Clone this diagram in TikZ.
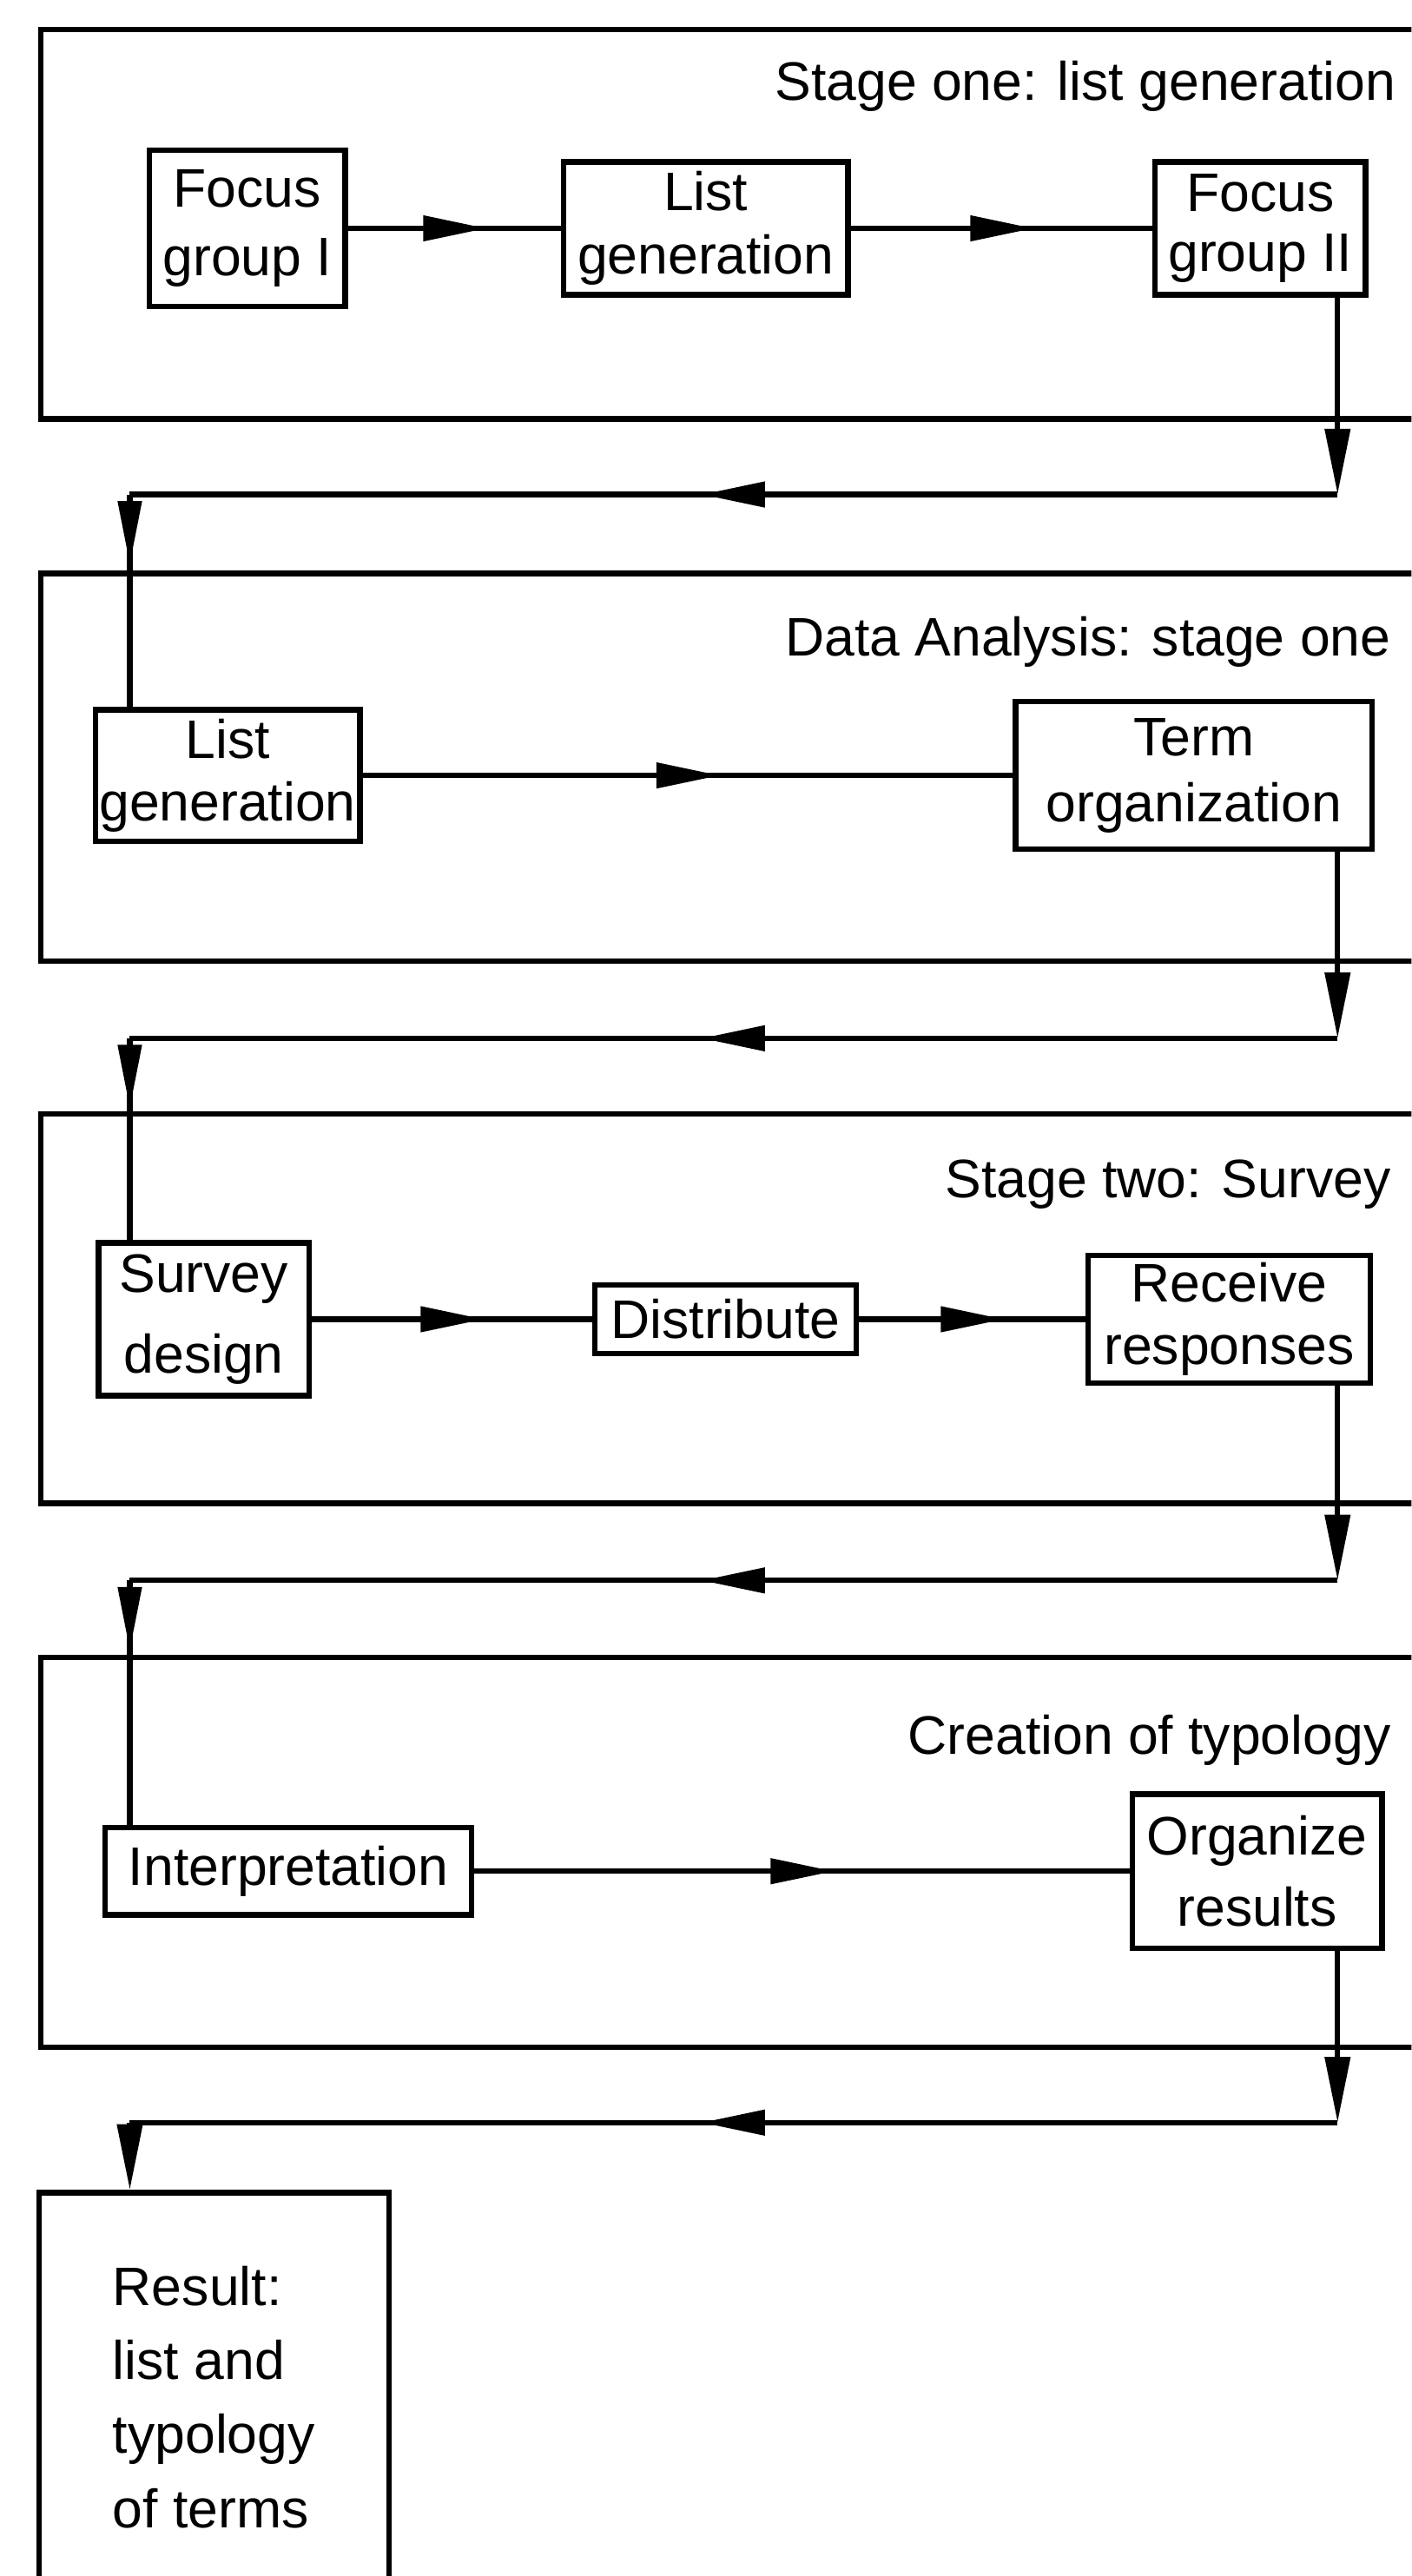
\documentclass[tikz,border=0pt]{standalone}
\usepackage{fontspec}
\setmainfont{Liberation Sans}
\usepackage{tikz}
\usetikzlibrary{arrows.meta,decorations.markings}

\begin{document}
\begin{tikzpicture}[x=0.02cm,y=-0.02cm,line width=1.9pt,
  task box/.style={draw,line width=1.9pt,align=center,inner sep=0pt,font=\fontsize{18.8}{#1}\selectfont},
  task box/.default=22.8pt,
  stage label/.style={anchor=base east,inner sep=0pt,font=\fontsize{18.8}{22.8}\selectfont},
  midhead/.style={postaction={decorate,decoration={markings,
    mark=at position 0.5 with {\fill (0.38cm,0) -- (-0.38cm,0.16cm) -- (-0.38cm,-0.16cm) -- cycle;}}}},
  starthead/.style={postaction={decorate,decoration={markings,
    mark=at position 0.84cm with {\fill (0,0) -- (-0.76cm,0.15cm) -- (-0.76cm,-0.15cm) -- cycle;}}}},
  endhead/.style={-{Triangle[length=0.8cm,width=0.3cm]}}]
\tikzstyle{frame} = [draw,line width=1.9pt]

\useasboundingbox (0,0) rectangle (859,1568);
\clip (0,0) rectangle (859,1568);

% Turning points of the return lines
\coordinate (r1) at (814,301);
\coordinate (l1) at (79,301);
\coordinate (r2) at (814,632);
\coordinate (l2) at (79,632);
\coordinate (r3) at (814,962);
\coordinate (l3) at (79,962);
\coordinate (r4) at (814,1292);
\coordinate (l4) at (79,1292);

% Stage one
\path[frame] (880,18) -- (25,18) -- (25,255) -- (880,255);
\node[stage label] (s1) at (851,61) {Stage one: list generation};
\node[task box=24pt,minimum width=2.38cm,minimum height=1.9cm] (fg1) at (150.5,139) {Focus\\group I};
\node[task box=22pt,minimum width=3.46cm,minimum height=1.62cm] (lg1) at (429.5,139) {List\\generation};
\node[task box=20.5pt,minimum width=2.56cm,minimum height=1.62cm] (fg2) at (767,139) {Focus\\group II};
\draw[midhead] (fg1) -- (lg1);
\draw[midhead] (lg1) -- (fg2);
\draw[endhead] (r1 |- fg2.south) -- (r1);
\draw[midhead] (r1) -- (l1);

% Data analysis
\path[frame] (880,349) -- (25,349) -- (25,585) -- (880,585);
\node[stage label] (s2) at (848,399) {Data Analysis: stage one};
\node[task box=21.5pt,minimum width=3.22cm,minimum height=1.6cm] (lg2) at (138.5,472) {List\\generation};
\node[task box,minimum width=4.34cm,minimum height=1.8cm] (to2) at (726.5,472) {Term\\organization};
\draw[starthead] (l1) -- (l1 |- lg2.north);
\draw[midhead] (lg2) -- (to2);
\draw[endhead] (r2 |- to2.south) -- (r2);
\draw[midhead] (r2) -- (l2);

% Stage two
\path[frame] (880,678) -- (25,678) -- (25,915) -- (880,915);
\node[stage label] (s3) at (848,729) {Stage two: Survey};
\node[task box=27.9pt,minimum width=2.56cm,minimum height=1.86cm] (sd) at (124,803) {Survey\\design};
\node[task box,minimum width=3.18cm,minimum height=0.84cm] (dist) at (441.5,803) {Distribute};
\node[task box=21.6pt,minimum width=3.44cm,minimum height=1.56cm] (rr) at (748,803) {Receive\\responses};
\draw[starthead] (l2) -- (l2 |- sd.north);
\draw[midhead] (sd) -- (dist);
\draw[midhead] (dist) -- (rr);
\draw[endhead] (r3 |- rr.south) -- (r3);
\draw[midhead] (r3) -- (l3);

% Creation of typology
\path[frame] (880,1009) -- (25,1009) -- (25,1246) -- (880,1246);
\node[stage label] (s4) at (848,1068) {Creation of typology};
\node[task box,minimum width=4.46cm,minimum height=1.06cm] (interp) at (175.5,1139) {Interpretation};
\node[task box=24.5pt,minimum width=3.04cm,minimum height=1.88cm] (org) at (765,1139) {Organize\\results};
\draw[starthead] (l3) -- (l3 |- interp.north);
\draw[midhead] (interp) -- (org);
\draw[endhead] (r4 |- org.south) -- (r4);
\draw[midhead] (r4) -- (l4);

% Result
\node[task box=25.6pt,align=left,anchor=north west,minimum width=4.26cm,minimum height=4.98cm] (result) at (22,1333) {Result:\\list and\\typology\\of terms};
\draw[endhead] (l4) -- (l4 |- result.north);

\end{tikzpicture}
\end{document}
